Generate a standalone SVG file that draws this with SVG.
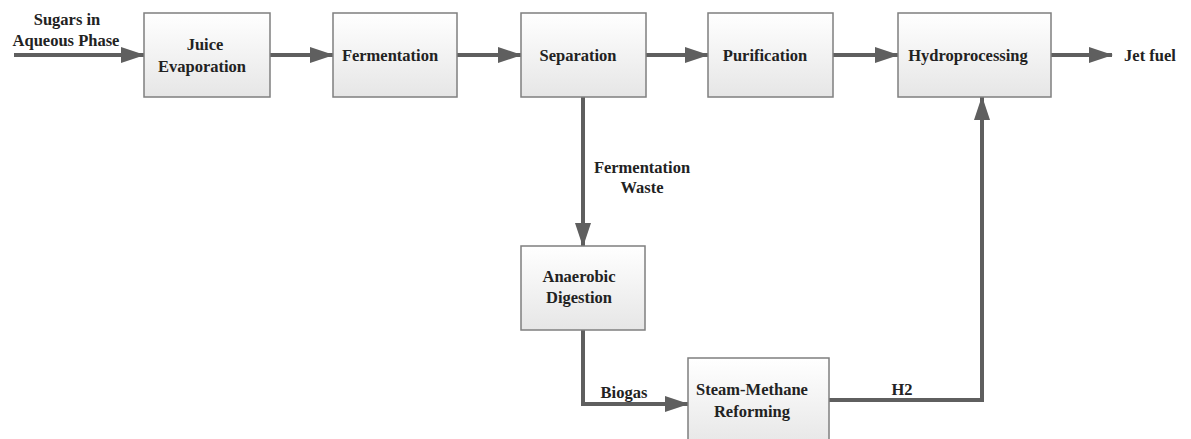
<svg xmlns="http://www.w3.org/2000/svg" width="1191" height="439" viewBox="0 0 1191 439">
  <defs>
    <linearGradient id="boxFill" x1="0" y1="0" x2="0" y2="1">
      <stop offset="0" stop-color="#ffffff"/>
      <stop offset="1" stop-color="#e6e6e6"/>
    </linearGradient>
    <marker id="arrow" markerUnits="userSpaceOnUse" markerWidth="24" markerHeight="16" refX="23" refY="8" orient="auto">
      <path d="M0,0 L24,8 L0,16 Z" fill="#5f5f5f"/>
    </marker>
    <style>
      .box { fill: url(#boxFill); stroke: #7f7f7f; stroke-width: 1.5; }
      .lbl { font-family: "Liberation Serif", "Times New Roman", serif; font-weight: bold; font-size: 16.5px; fill: #222; text-anchor: middle; }
      .flow { fill: none; stroke: #5f5f5f; stroke-width: 4; }
    </style>
  </defs>
  <rect width="1191" height="439" fill="#ffffff"/>

  <g id="connectors">
    <line class="flow" x1="14" y1="55" x2="144" y2="55" marker-end="url(#arrow)"/>
    <line class="flow" x1="270" y1="55" x2="333" y2="55" marker-end="url(#arrow)"/>
    <line class="flow" x1="457" y1="55" x2="521" y2="55" marker-end="url(#arrow)"/>
    <line class="flow" x1="646" y1="55" x2="708" y2="55" marker-end="url(#arrow)"/>
    <line class="flow" x1="833" y1="55" x2="898" y2="55" marker-end="url(#arrow)"/>
    <line class="flow" x1="1051" y1="55" x2="1112" y2="55" marker-end="url(#arrow)"/>
    <line class="flow" x1="583" y1="97" x2="583" y2="246" marker-end="url(#arrow)"/>
    <polyline class="flow" points="583,330 583,404 688,404" marker-end="url(#arrow)"/>
    <polyline class="flow" points="829,400 982,400 982,97" marker-end="url(#arrow)"/>
  </g>

  <g id="labels">
    <text class="lbl" x="67" y="25">Sugars in</text>
    <text class="lbl" x="66" y="46">Aqueous Phase</text>
    <text class="lbl" x="1150" y="61">Jet fuel</text>
    <text class="lbl" x="642" y="173">Fermentation</text>
    <text class="lbl" x="642" y="193">Waste</text>
    <text class="lbl" x="624" y="398">Biogas</text>
    <text class="lbl" x="902" y="395">H2</text>
  </g>

  <g id="juice-evaporation">
    <rect class="box" x="144" y="13" width="126" height="84"/>
    <text class="lbl" x="205" y="50">Juice</text>
    <text class="lbl" x="202" y="72">Evaporation</text>
  </g>
  <g id="fermentation">
    <rect class="box" x="333" y="13" width="124" height="84"/>
    <text class="lbl" x="390" y="61">Fermentation</text>
  </g>
  <g id="separation">
    <rect class="box" x="521" y="13" width="125" height="84"/>
    <text class="lbl" x="578" y="61">Separation</text>
  </g>
  <g id="purification">
    <rect class="box" x="708" y="13" width="125" height="84"/>
    <text class="lbl" x="765" y="61">Purification</text>
  </g>
  <g id="hydroprocessing">
    <rect class="box" x="898" y="13" width="153" height="84"/>
    <text class="lbl" x="968" y="61">Hydroprocessing</text>
  </g>
  <g id="anaerobic-digestion">
    <rect class="box" x="521" y="246" width="124" height="84"/>
    <text class="lbl" x="579" y="282">Anaerobic</text>
    <text class="lbl" x="579" y="303">Digestion</text>
  </g>
  <g id="steam-methane-reforming">
    <rect class="box" x="688" y="358" width="141" height="90"/>
    <text class="lbl" x="752" y="395">Steam-Methane</text>
    <text class="lbl" x="752" y="417">Reforming</text>
  </g>
</svg>
